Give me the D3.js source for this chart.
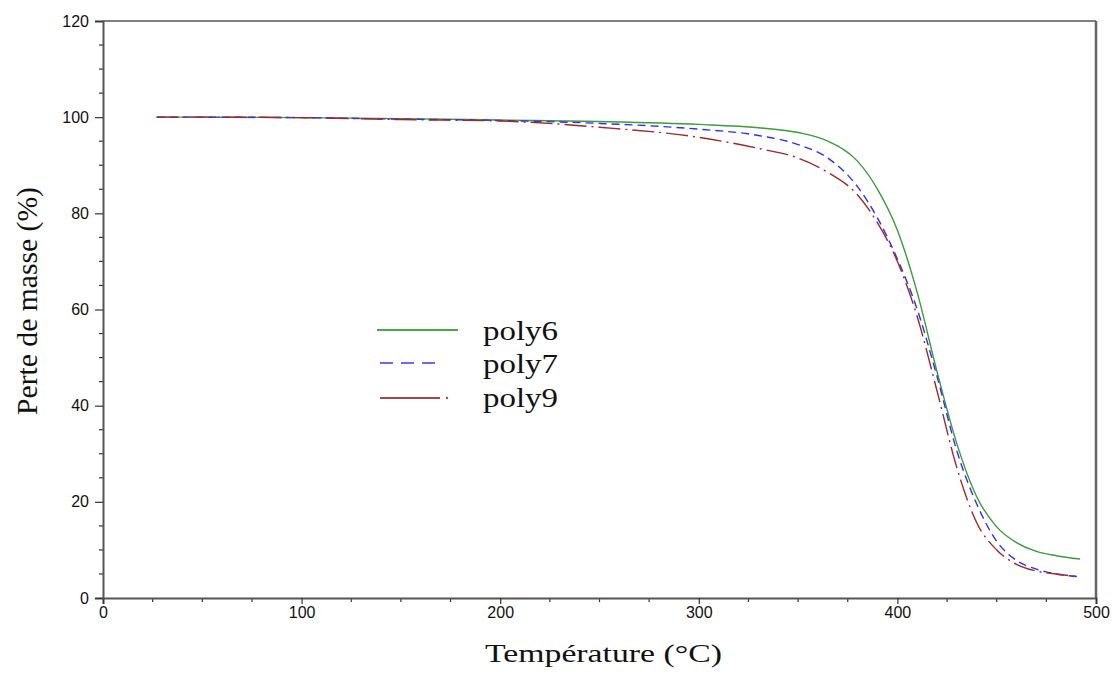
<!DOCTYPE html>
<html><head><meta charset="utf-8">
<script src="https://cdn.jsdelivr.net/npm/d3@7"></script>
<style>body{margin:0;background:#fff}</style>
</head><body>
<svg id="c" width="1113" height="675"></svg>
<script>
const temps = [27, 50, 100, 150, 200, 250, 300, 330, 350, 365, 380, 390, 400, 410, 420, 430, 440, 450, 460, 470, 480, 492];
const poly6 = [100, 100, 99.9, 99.7, 99.4, 99.1, 98.5, 97.8, 96.8, 95.0, 90.8, 85, 76.5, 63.5, 47, 32, 21, 14.8, 11.5, 9.7, 8.8, 8.1];
const poly7 = [100, 100, 99.9, 99.6, 99.3, 98.7, 97.5, 96.2, 94.3, 91.5, 85.5, 79, 70.5, 60, 46, 30.5, 19.5, 11.8, 7.8, 6, 5, 4.4];
const poly9 = [100, 100, 99.9, 99.5, 99.2, 97.9, 95.8, 93.5, 91.5, 88.5, 83.8, 78, 70, 58.5, 43, 27, 15.6, 10, 7, 5.6, 5, 4.4];
const seriesNames = ["poly6", "poly7", "poly9"];
const xTicks = [0, 100, 200, 300, 400, 500];
const yTicks = [0, 20, 40, 60, 80, 100, 120];
const xLabel = "Température (°C)";
const yLabel = "Perte de masse (%)";

const svg = d3.select("#c");
const L = 103, R = 1096, T = 21, B = 598;
const x = d3.scaleLinear().domain([0, 500]).range([L, R]);
const y = d3.scaleLinear().domain([0, 120]).range([B, T]);

// frame top/right
svg.append("line").attr("x1", L).attr("x2", R).attr("y1", T).attr("y2", T).attr("stroke", "#555").attr("stroke-width", 1.5);
svg.append("line").attr("x1", R).attr("x2", R).attr("y1", T).attr("y2", B).attr("stroke", "#666").attr("stroke-width", 2.5);

// minor ticks
const yMinor = d3.range(0, 121, 5).filter(v => v % 20 !== 0);
const xMinor = d3.range(0, 501, 25).filter(v => v % 100 !== 0);
const gx = svg.append("g").attr("transform", `translate(0,${B})`);
gx.selectAll("line.mn").data(xMinor).join("line").attr("x1", d => x(d)).attr("x2", d => x(d)).attr("y1", 0).attr("y2", 4).attr("stroke", "#333").attr("stroke-width", 1.2);
const gy = svg.append("g").attr("transform", `translate(${L},0)`);
gy.selectAll("line.mn").data(yMinor).join("line").attr("y1", d => y(d)).attr("y2", d => y(d)).attr("x1", 0).attr("x2", -4).attr("stroke", "#333").attr("stroke-width", 1.2);

const xAxis = d3.axisBottom(x).tickValues(xTicks).tickSize(6).tickPadding(3);
const yAxis = d3.axisLeft(y).tickValues(yTicks).tickSize(8).tickPadding(6);
gx.call(xAxis);
gy.call(yAxis);
[gx, gy].forEach(g => {
  g.select(".domain").attr("stroke", "#555").attr("stroke-width", 2);
  g.selectAll(".tick line").attr("stroke", "#333").attr("stroke-width", 1.2);
  g.selectAll(".tick text").attr("font-family", "Liberation Sans, Arial, sans-serif").attr("font-size", 16).attr("fill", "#111");
});

const colors = {poly6: "#3d9a3d", poly7: "#2f2ff5", poly9: "#9c2a2a"};
const dashes = {poly6: null, poly7: "8,5", poly9: "22,5,2,5"};
const data = {poly6, poly7, poly9};
const line = d3.line().x((d, i) => x(temps[i])).y(d => y(d)).curve(d3.curveMonotoneX);
seriesNames.forEach(n => {
  svg.append("path").attr("d", line(data[n])).attr("fill", "none")
    .attr("stroke", colors[n]).attr("stroke-width", 1.4).attr("stroke-dasharray", dashes[n]);
});

// legend
const legY = [330, 363, 398];
const legTextY = [340, 373, 407];
const legX1 = [377, 380, 380], legX2 = [458, 443, 440];
const legCol = {poly6: "#4aa84a", poly7: "#6a6aff", poly9: "#a04848"};
seriesNames.forEach((n, i) => {
  svg.append("line").attr("x1", legX1[i]).attr("x2", legX2[i]).attr("y1", legY[i]).attr("y2", legY[i])
    .attr("stroke", legCol[n]).attr("stroke-width", 2.2).attr("stroke-dasharray", i === 1 ? "13,8" : null);
  if (i === 2) svg.append("circle").attr("cx", 447).attr("cy", legY[i]).attr("r", 1.2).attr("fill", legCol[n]);
  svg.append("text").attr("x", 483).attr("y", legTextY[i]).text(n)
    .attr("textLength", 75).attr("lengthAdjust", "spacingAndGlyphs")
    .attr("font-family", "Liberation Serif, Times New Roman, serif").attr("font-size", 27).attr("fill", "#111");
});

svg.append("text").attr("x", 485).attr("y", 662).text(xLabel)
  .attr("textLength", 237).attr("lengthAdjust", "spacingAndGlyphs")
  .attr("font-family", "Liberation Serif, Times New Roman, serif").attr("font-size", 26).attr("fill", "#111");
svg.append("text").attr("transform", `translate(37,415) rotate(-90)`).text(yLabel)
  .attr("textLength", 228).attr("lengthAdjust", "spacingAndGlyphs")
  .attr("font-family", "Liberation Serif, Times New Roman, serif").attr("font-size", 30).attr("fill", "#111");
</script>
</body></html>
